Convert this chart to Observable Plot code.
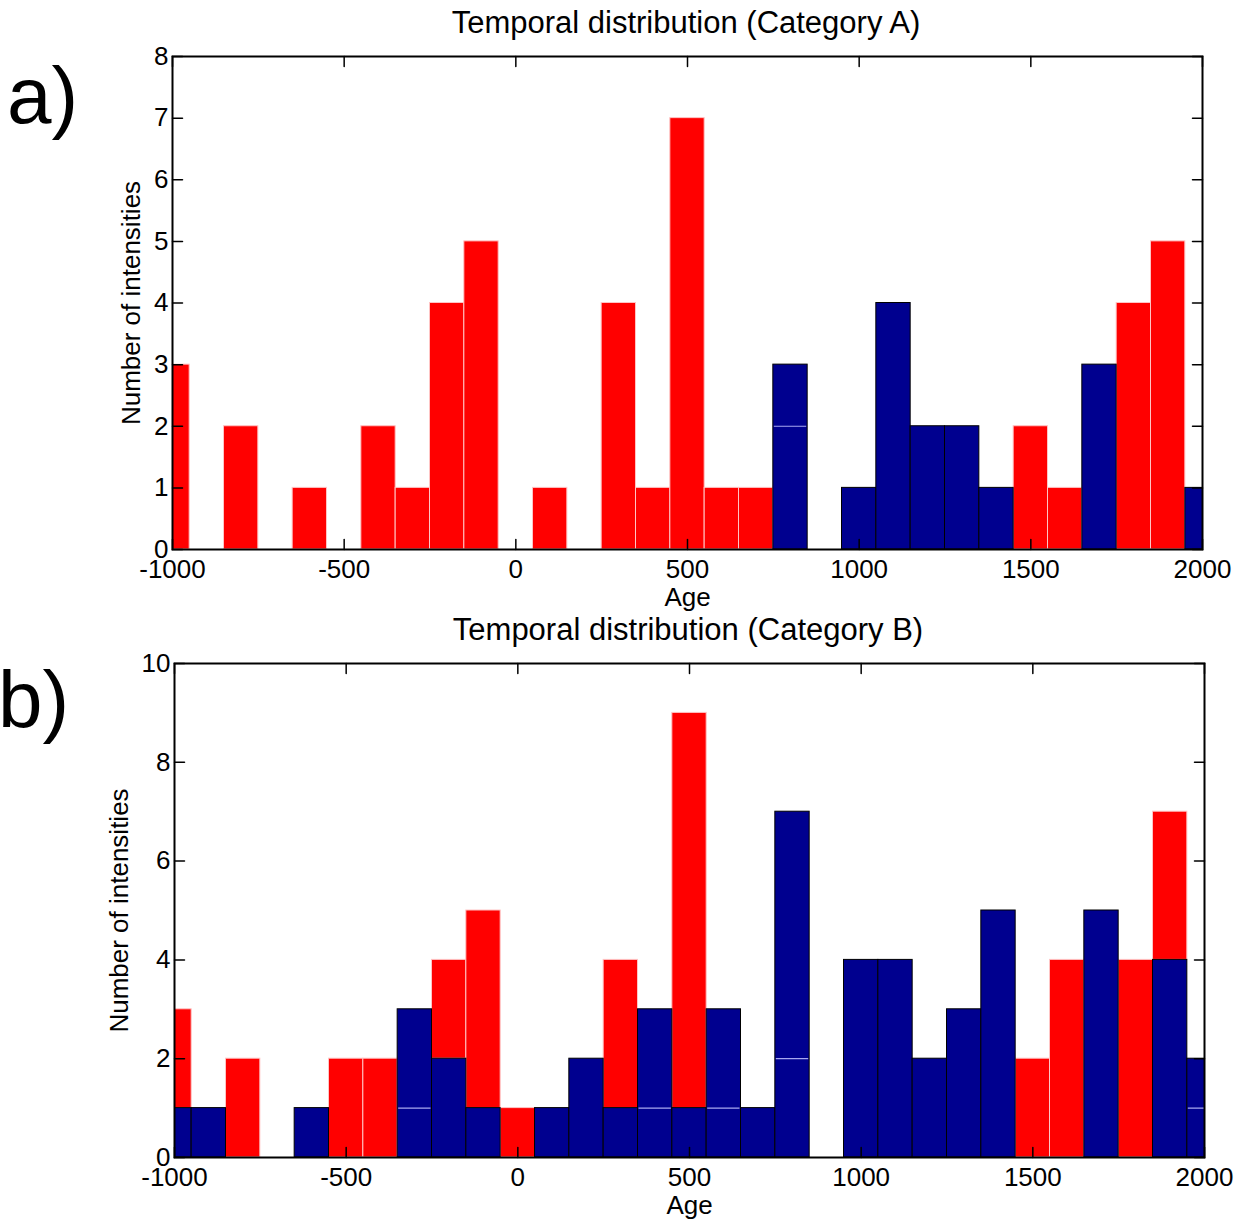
<!DOCTYPE html>
<html><head><meta charset="utf-8">
<script src="https://cdn.jsdelivr.net/npm/d3@7"></script>
<script src="https://cdn.jsdelivr.net/npm/@observablehq/plot@0.6"></script>
<style>
html,body{margin:0;padding:0;background:#fff;}
body{width:1241px;height:1220px;position:relative;overflow:hidden;font-family:"Liberation Sans",Arial,sans-serif;}
.abs{position:absolute;line-height:1;white-space:nowrap;color:#000;}
.plot{position:absolute;left:0;}
</style></head><body>
<div class="abs" style="left:7px;top:56px;font-size:80px;">a)</div>
<div class="abs" style="left:-2px;top:660px;font-size:80px;">b)</div>
<div class="abs" id="titleA" style="left:0;width:1372px;text-align:center;top:7px;font-size:31px;">Temporal distribution (Category A)</div>
<div class="abs" id="titleB" style="left:0;width:1376px;text-align:center;top:614px;font-size:31px;">Temporal distribution (Category B)</div>
<div class="plot" id="pa" style="top:40px;"></div>
<div class="plot" id="pb" style="top:648px;"></div>
<script>
// Bin centres (Age)
const binCenters = [-1000,-900,-800,-700,-600,-500,-400,-300,-200,-100,0,100,200,300,400,500,600,700,800,900,1000,1100,1200,1300,1400,1500,1600,1700,1800,1900,2000];
const binWidth = 100;
const xTicks = [-1000,-500,0,500,1000,1500,2000];

// Panel a) Category A
const blueLowerA = [0,0,0,0,0,0,0,0,0,0,0,0,0,0,0,0,0,0,2,0,1,4,2,2,1,0,0,3,0,0,1];
const blueUpperA = [0,0,0,0,0,0,0,0,0,0,0,0,0,0,0,0,0,0,1,0,0,0,0,0,0,0,0,0,0,0,0];
const redA       = [3,0,2,0,1,0,2,1,4,5,0,1,0,4,1,7,1,1,0,0,0,0,0,0,0,2,1,0,4,5,0];
const yTicksA = [0,1,2,3,4,5,6,7,8];

// Panel b) Category B
const blueLowerB = [1,1,0,0,1,0,0,1,2,1,0,1,2,1,1,1,1,1,2,0,4,4,2,3,5,0,0,5,0,4,1];
const blueUpperB = [0,0,0,0,0,0,0,2,0,0,0,0,0,0,2,0,2,0,5,0,0,0,0,0,0,0,0,0,0,0,1];
const redB       = [2,0,2,0,0,2,2,0,2,4,1,0,0,3,0,8,0,0,0,0,0,0,0,0,0,2,4,0,4,3,0];
const yTicksB = [0,2,4,6,8,10];

const RED = "#ff0000", BLUE = "#00008f";
const tickShape = {draw(ctx, l) { ctx.moveTo(0, 0); ctx.lineTo(0, -l); }};

function panel({lo, up, red, yTicks, ml, mr, mt, mb, height, labelDx}) {
  const half = binWidth / 2;
  const rows = binCenters.map((c, i) => ({c, lo: lo[i], up: up[i], red: red[i]}));
  const yMax = yTicks[yTicks.length - 1];
  const x0 = xTicks[0], x1 = xTicks[xTicks.length - 1];
  const vec = {length: 10, anchor: "start", shape: tickShape, stroke: "#000", strokeWidth: 1.5};
  return Plot.plot({
    width: 1241, height,
    marginLeft: ml, marginRight: mr, marginTop: mt, marginBottom: mb,
    style: {fontFamily: "'Liberation Sans', Arial, sans-serif", fontSize: "26px", color: "#000", background: "transparent", overflow: "visible"},
    x: {domain: [x0, x1]},
    y: {domain: [0, yMax]},
    marks: [
      Plot.rectY(rows.filter(d => d.red > 0), {
        x1: d => d.c - half, x2: d => d.c + half,
        y1: d => d.lo + d.up, y2: d => d.lo + d.up + d.red,
        fill: RED, stroke: "#ffc4c4", strokeWidth: 1, clip: true
      }),
      Plot.rectY(rows.filter(d => d.lo + d.up > 0), {
        x1: d => d.c - half, x2: d => d.c + half,
        y1: 0, y2: d => d.lo + d.up,
        fill: BLUE, stroke: "#000", strokeWidth: 1, clip: true
      }),
      Plot.ruleY(rows.filter(d => d.lo > 0 && d.up > 0), {
        x1: d => d.c - half, x2: d => d.c + half, y: d => d.lo,
        stroke: "#a8a8f0", strokeWidth: 1.2, insetLeft: 1, insetRight: 1, clip: true
      }),
      Plot.frame({stroke: "#000", strokeWidth: 2}),
      Plot.vector(xTicks, {x: d => d, y: 0, rotate: 0, ...vec}),
      Plot.vector(xTicks, {x: d => d, y: yMax, rotate: 180, ...vec}),
      Plot.vector(yTicks, {x: x0, y: d => d, rotate: 90, ...vec}),
      Plot.vector(yTicks, {x: x1, y: d => d, rotate: -90, ...vec}),
      Plot.axisX({ticks: xTicks, anchor: "bottom", tickSize: 0, tickPadding: 10, tickFormat: d => String(d), fontSize: 26, label: null}),
      Plot.axisY({ticks: yTicks, anchor: "left", tickSize: 0, tickPadding: 4, tickFormat: d => String(d), fontSize: 26, label: null}),
      Plot.text(["Number of intensities"], {text: d => d, frameAnchor: "left", rotate: -90, dx: labelDx, textAnchor: "middle", lineAnchor: "middle", fontSize: 26}),
      Plot.text(["Age"], {text: d => d, frameAnchor: "bottom", lineAnchor: "top", dy: 38, fontSize: 26})
    ]
  });
}

document.getElementById("pa").append(panel({lo: blueLowerA, up: blueUpperA, red: redA, yTicks: yTicksA, ml: 172, mr: 39, mt: 16, mb: 66, height: 575, labelDx: -41}));
document.getElementById("pb").append(panel({lo: blueLowerB, up: blueUpperB, red: redB, yTicks: yTicksB, ml: 174, mr: 37, mt: 15, mb: 63, height: 572, labelDx: -55}));
</script>
</body></html>
